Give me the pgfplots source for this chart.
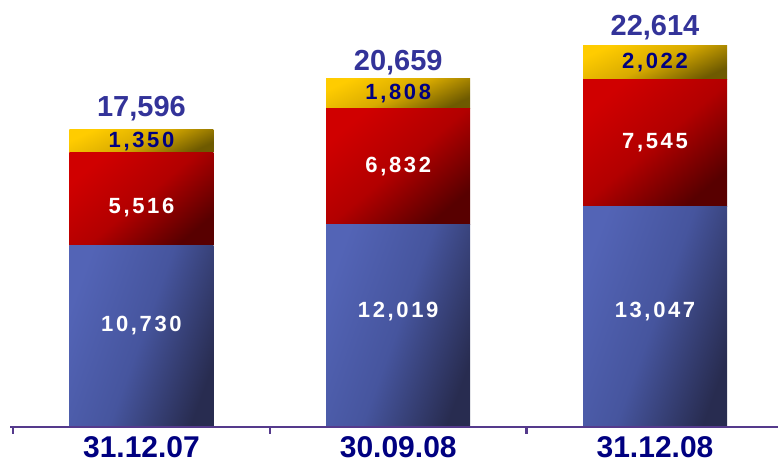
\documentclass[border=0pt]{standalone}
\usepackage{pgfplots}
\pgfplotsset{compat=1.18}
\usepackage{pgfplotstable}
\usepackage{fontspec}
\setmainfont{Liberation Sans}
\newfontfamily\spaced[LetterSpace=12]{Liberation Sans}
\definecolor{blueL}{HTML}{5364B6}
\definecolor{blueM}{HTML}{46559E}
\definecolor{blueD}{HTML}{282C50}
\definecolor{redL}{HTML}{D00000}
\definecolor{redM}{HTML}{B20000}
\definecolor{redD}{HTML}{580000}
\definecolor{yelL}{HTML}{FFCC00}
\definecolor{yelM}{HTML}{D8AA00}
\definecolor{yelD}{HTML}{6E5A00}
\definecolor{totc}{HTML}{333399}
\definecolor{navy}{HTML}{000080}
\definecolor{axc}{HTML}{553A8C}

% one table per date: x, blue, red, yellow
\pgfplotstableread{
x blue red yellow
0 10730 5516 1350
}\barA
\pgfplotstableread{
x blue red yellow
1 12019 6832 1808
}\barB
\pgfplotstableread{
x blue red yellow
2 13047 7545 2022
}\barC

\pgfplotstableread{
x y label
0 6040 {10,730}
1 6870 {12,019}
2 6870 {13,047}
0 13000 {5,516}
1 15435 {6,832}
2 16820 {7,545}
}\whitelabels

\pgfplotstableread{
x y label
0 16921 {1,350}
1 19755 {1,808}
2 21603 {2,022}
}\navylabels

\pgfplotstableread{
x y label
0 18365 {17,596}
1 21090 {20,659}
2 23164 {22,614}
}\totals

\pgfplotsset{base/.style={scale only axis, width=768pt, height=427pt,
  xmin=-0.512, xmax=2.479, ymin=0, ymax=25296, at={(0,0)}, anchor=south west, clip=false}}

\newcommand\onebar[1]{%
\begin{axis}[base, hide axis, ybar stacked, bar width=144pt]
\addplot[draw=none, left color=blueL, right color=blueD, middle color=blueM, shading angle=70] table[x=x, y=blue] {#1};
\addplot[draw=none, left color=redL, right color=redD, middle color=redM, shading angle=40] table[x=x, y=red] {#1};
\addplot[draw=none, left color=yelL, right color=yelD, middle color=yelM, shading angle=25] table[x=x, y=yellow] {#1};
\end{axis}}

\begin{document}
\begin{tikzpicture}
\path[use as bounding box] (-10pt,-35pt) rectangle (768pt,427pt);
\onebar{\barA}
\onebar{\barB}
\onebar{\barC}
\begin{axis}[base,
  axis x line*=bottom, axis y line=none,
  x axis line style={axc, line width=2.5pt, -},
  xtick={0,1,2}, xticklabels={31.12.07,30.09.08,31.12.08},
  major tick length=0pt,
  minor xtick={-0.5,0.5,1.5}, minor tick length=7pt,
  tick align=outside,
  minor tick style={axc, line width=2.5pt},
  xticklabel style={font=\fontsize{30}{30}\selectfont\bfseries, text=navy, inner sep=0pt, yshift=-9pt},
  ytick=\empty,
]
\addplot[only marks, mark=none, point meta=explicit symbolic, nodes near coords,
  every node near coord/.append style={anchor=center, text=white, font=\spaced\fontsize{22}{22}\selectfont\bfseries}]
  table[x=x, y=y, meta=label] {\whitelabels};
\addplot[only marks, mark=none, point meta=explicit symbolic, nodes near coords,
  every node near coord/.append style={anchor=center, text=navy, font=\spaced\fontsize{22}{22}\selectfont\bfseries}]
  table[x=x, y=y, meta=label] {\navylabels};
\addplot[only marks, mark=none, point meta=explicit symbolic, nodes near coords,
  every node near coord/.append style={anchor=base, inner sep=0pt, text=totc, font=\fontsize{29}{29}\selectfont\bfseries}]
  table[x=x, y=y, meta=label] {\totals};
\end{axis}
\end{tikzpicture}
\end{document}
